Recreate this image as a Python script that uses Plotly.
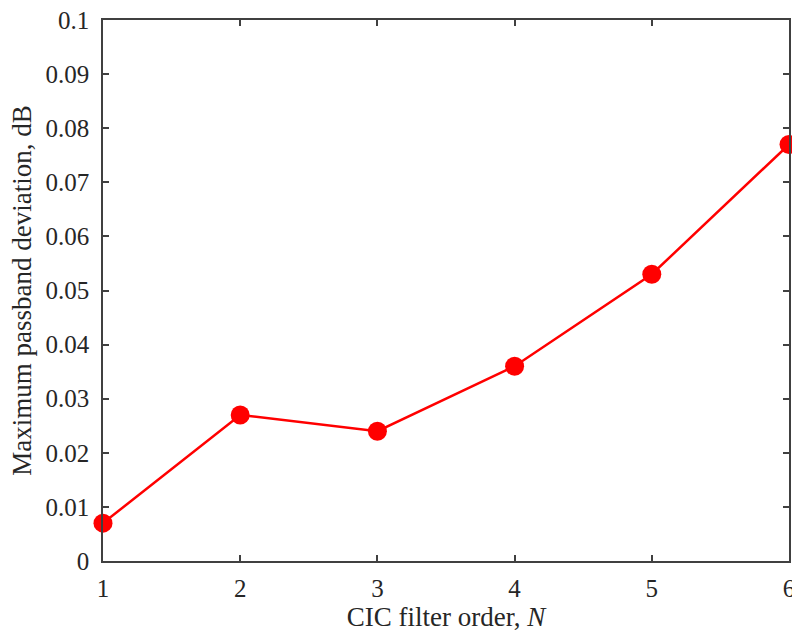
import plotly.graph_objects as go

orders = [1, 2, 3, 4, 5, 6]
deviation_db = [0.007, 0.027, 0.024, 0.036, 0.053, 0.077]
y_ticks = [0, 0.01, 0.02, 0.03, 0.04, 0.05, 0.06, 0.07, 0.08, 0.09, 0.1]
y_tick_labels = ["0", "0.01", "0.02", "0.03", "0.04", "0.05", "0.06", "0.07", "0.08", "0.09", "0.1"]

font_family = "Liberation Serif, Times New Roman, serif"
axis_color = "#404040"

fig = go.Figure(
    go.Scatter(
        x=orders,
        y=deviation_db,
        mode="lines+markers",
        line=dict(color="#ff0000", width=2.5),
        marker=dict(color="#ff0000", size=19),
        cliponaxis=False,
    )
)

fig.update_layout(
    width=792,
    height=632,
    margin=dict(l=103, r=3, t=20, b=71),
    paper_bgcolor="white",
    plot_bgcolor="white",
    showlegend=False,
    font=dict(family=font_family, size=22.5, color="#262626"),
)

fig.update_xaxes(
    range=[1, 6],
    tickvals=orders,
    ticktext=[str(v) for v in orders],
    ticks="inside",
    ticklen=6,
    tickwidth=1.5,
    tickcolor=axis_color,
    showline=True,
    linecolor=axis_color,
    linewidth=1.5,
    mirror="ticks",
    showgrid=False,
    zeroline=False,
    automargin=False,
    ticklabeloverflow="allow",
    ticklabelstandoff=4,
    title=dict(text="CIC filter order, <i>N</i>", standoff=6),
    tickfont=dict(size=25),
)

fig.update_yaxes(
    range=[0, 0.1],
    tickvals=y_ticks,
    ticktext=y_tick_labels,
    ticks="inside",
    ticklen=6,
    tickwidth=1.5,
    tickcolor=axis_color,
    showline=True,
    linecolor=axis_color,
    linewidth=1.5,
    mirror="ticks",
    showgrid=False,
    zeroline=False,
    automargin=False,
    ticklabeloverflow="allow",
    ticklabelstandoff=7,
    title=dict(text="Maximum passband deviation, dB", standoff=6),
    tickfont=dict(size=25),
)

fig.write_html(
    "out.html",
    config={"displayModeBar": False},
    post_script="document.body.style.margin='0';document.body.style.overflow='hidden';",
)
